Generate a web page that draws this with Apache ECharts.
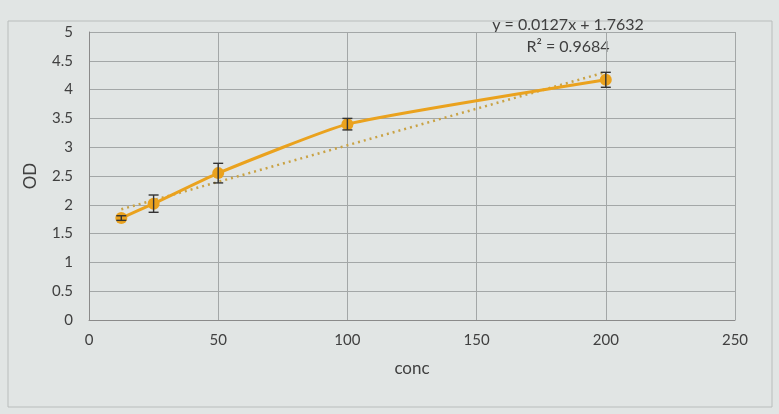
<!DOCTYPE html>
<html>
<head>
<meta charset="utf-8">
<script src="https://cdn.jsdelivr.net/npm/echarts@6/dist/echarts.min.js"></script>
<style>
html,body{margin:0;padding:0;background:#e1e5e4;}
#c{width:779px;height:414px;}
</style>
</head>
<body>
<div id="c"></div>
<script>
var conc = [12.5, 25, 50, 100, 200];
var od = [1.77, 2.02, 2.55, 3.40, 4.17];
var odErr = [0.04, 0.15, 0.17, 0.10, 0.13];
var trendSlope = 0.0127;
var trendIntercept = 1.7632;
var trendR2 = 0.9684;
var xTicks = [0, 50, 100, 150, 200, 250];
var yTicks = [0, 0.5, 1, 1.5, 2, 2.5, 3, 3.5, 4, 4.5, 5];

var points = conc.map(function (x, i) { return [x, od[i]]; });
var errData = conc.map(function (x, i) { return [x, od[i] - odErr[i], od[i] + odErr[i]]; });
var xFirst = conc[0], xLast = conc[conc.length - 1];
var trendData = [[xFirst, trendSlope * xFirst + trendIntercept], [xLast, trendSlope * xLast + trendIntercept]];

var font = 'Lato, "Open Sans", sans-serif';
var chart = echarts.init(document.getElementById('c'));
chart.setOption({
  backgroundColor: '#e1e5e4',
  animation: false,
  grid: { left: 89, right: 44, top: 32, bottom: 94, show: false },
  graphic: [
    { type: 'rect', shape: { x: 8, y: 21, width: 764, height: 386 }, style: { fill: 'none', stroke: '#b9bdbc', lineWidth: 1 }, z: -1 },
    { type: 'text', x: 568, y: 25, style: { text: 'y = ' + trendSlope + 'x + ' + trendIntercept, font: '16px ' + font, fill: '#404040', textAlign: 'center', textVerticalAlign: 'middle' } },
    { type: 'text', x: 568, y: 47, style: { text: 'R² = ' + trendR2, font: '16px ' + font, fill: '#404040', textAlign: 'center', textVerticalAlign: 'middle' } }
  ],
  xAxis: {
    type: 'value', min: 0, max: 250, interval: 50,
    name: 'conc', nameLocation: 'middle', nameGap: 40,
    nameTextStyle: { fontFamily: font, fontSize: 17, color: '#404040' },
    axisLine: { show: true, lineStyle: { color: '#8a8a8a', width: 1 } },
    axisTick: { show: false },
    axisLabel: { fontFamily: font, fontSize: 15, color: '#404040', margin: 13,
      formatter: function (v) { return xTicks.indexOf(v) >= 0 ? String(v) : ''; } },
    splitLine: { show: true, lineStyle: { color: '#a3a7a7', width: 1 } }
  },
  yAxis: {
    type: 'value', min: 0, max: 5, interval: 0.5,
    name: 'OD', nameLocation: 'middle', nameGap: 50, nameRotate: 90,
    nameTextStyle: { fontFamily: font, fontSize: 17, color: '#404040' },
    axisLine: { show: true, lineStyle: { color: '#8a8a8a', width: 1 } },
    axisTick: { show: false },
    axisLabel: { fontFamily: font, fontSize: 15, color: '#404040', margin: 16,
      formatter: function (v) { return yTicks.indexOf(v) >= 0 ? String(v) : ''; } },
    splitLine: { show: true, lineStyle: { color: '#a3a7a7', width: 1 } }
  },
  series: [
    {
      type: 'line', data: trendData, symbol: 'none',
      lineStyle: { color: '#c9a244', width: 2.5, type: [2, 4] }, z: 2
    },
    {
      type: 'line', data: points, smooth: 0.15, symbol: 'circle', symbolSize: 12,
      lineStyle: { color: '#eaa21e', width: 3 },
      itemStyle: { color: '#eaa21e' }, z: 3
    },
    {
      type: 'custom', data: errData, z: 4,
      renderItem: function (params, api) {
        var x = api.value(0);
        var lo = api.coord([x, api.value(1)]);
        var hi = api.coord([x, api.value(2)]);
        var w = 5;
        var st = { stroke: '#333', lineWidth: 1.4 };
        return {
          type: 'group', children: [
            { type: 'line', shape: { x1: lo[0], y1: lo[1], x2: hi[0], y2: hi[1] }, style: st },
            { type: 'line', shape: { x1: lo[0] - w, y1: lo[1], x2: lo[0] + w, y2: lo[1] }, style: st },
            { type: 'line', shape: { x1: hi[0] - w, y1: hi[1], x2: hi[0] + w, y2: hi[1] }, style: st }
          ]
        };
      }
    }
  ]
});
</script>
</body>
</html>
